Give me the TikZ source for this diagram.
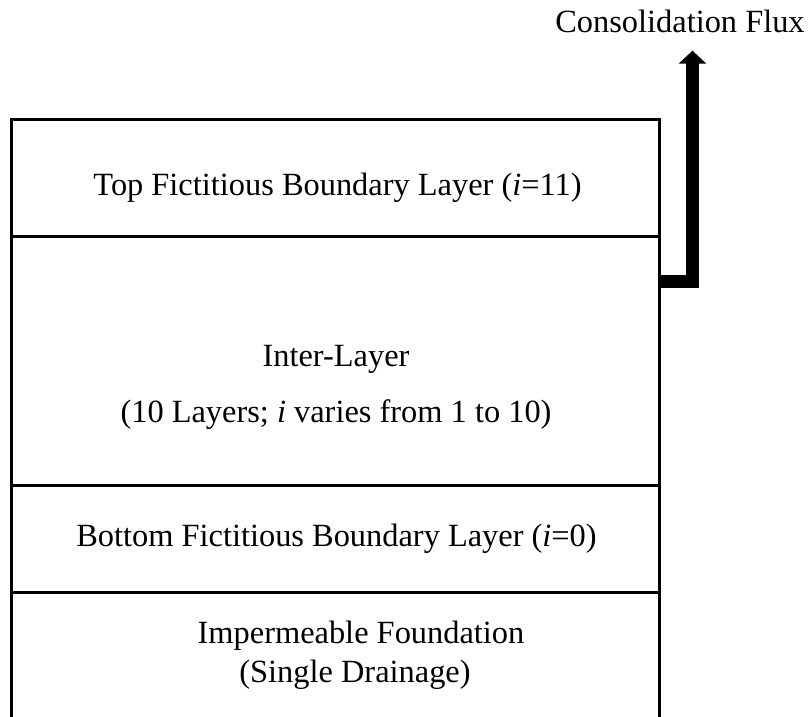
\documentclass[tikz,border=0pt]{standalone}
\usepackage{fontspec}
\setmainfont{Liberation Serif}
\usetikzlibrary{arrows.meta}
\begin{document}
\begin{tikzpicture}[x=1pt,y=-1pt,
  wall/.style={line width=3pt},
  lbl/.style={anchor=base, inner sep=0pt, font=\fontsize{32.4}{38}\selectfont},
  flux/.style={line width=13pt, line join=miter,
    -{Triangle[width=27pt,length=13pt]}}]
\useasboundingbox (0,0) rectangle (808,717);

% outline of the soil column (open at the bottom)
\coordinate (bl) at (11,717);
\coordinate (tl) at (11,119.5);
\coordinate (tr) at (659,119.5);
\coordinate (br) at (659,717);
\draw[wall, line join=miter] (bl) -- (tl) -- (tr) -- (br);

% layer boundaries
\coordinate (d1l) at (11,236.5);  \coordinate (d1r) at (659,236.5);
\coordinate (d2l) at (11,485.5);  \coordinate (d2r) at (659,485.5);
\coordinate (d3l) at (11,592.5);  \coordinate (d3r) at (659,592.5);
\draw[wall] (d1l) -- (d1r);
\draw[wall] (d2l) -- (d2r);
\draw[wall] (d3l) -- (d3r);

% layer labels
\node[lbl] (top) at (337.5,195) {Top Fictitious Boundary Layer (\textit{i}=11)};
\node[lbl] (inter) at (336,366) {Inter-Layer};
\node[lbl] (interinfo) at (336,422) {(10 Layers; \textit{i} varies from 1 to 10)};
\node[lbl] (bottom) at (336.5,546.7) {Bottom Fictitious Boundary Layer (\textit{i}=0)};
\node[lbl] (found) at (361,643) {Impermeable Foundation};
\node[lbl] (drain) at (355,682) {(Single Drainage)};

% consolidation flux leaving the column
\coordinate (out) at (659,281);
\coordinate (fluxtip) at (692.5,50.7);
\draw[flux] (out) -- (out -| fluxtip) -- (fluxtip);
\node[lbl] (fluxlbl) at (680,33) {Consolidation Flux};
\end{tikzpicture}
\end{document}
